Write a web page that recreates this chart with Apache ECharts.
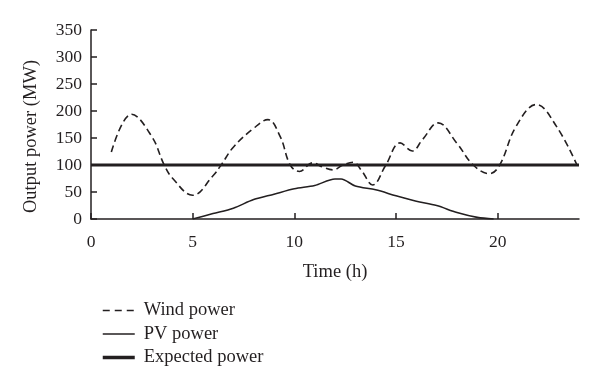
<!DOCTYPE html>
<html>
<head>
<meta charset="utf-8">
<script src="https://cdn.jsdelivr.net/npm/echarts@6/dist/echarts.min.js"></script>
<style>html,body{margin:0;padding:0;background:#fff}#c{width:600px;height:388px}</style>
</head>
<body>
<div id="c"></div>
<script>
// Wind power (MW) at time (h)
var windTime  = [1, 2, 3, 3.6, 4, 5, 6, 6.4, 7, 8, 8.7, 9.3, 9.8, 10.25, 10.9, 11.4, 11.9, 12.4, 12.9, 13.3, 13.85, 14.5, 15.2, 15.8, 16.3, 17.07, 18, 18.8, 19.6, 20.1, 20.9, 21.9, 22.9, 23.9];
var windPower = [124, 194, 152, 100, 76, 44, 80, 100, 133, 168, 184, 153, 100, 88, 104, 96, 91, 100, 105, 90, 63, 100, 141, 126, 147, 178, 140, 100, 84, 100, 171, 212, 171, 100];
// PV power (MW)
var pvTime  = [5, 6, 7, 8, 9, 10, 11, 12, 12.3, 13, 14, 15, 16, 17, 18, 19, 19.8];
var pvPower = [0, 10, 20, 36, 46, 56, 62, 74, 74, 61, 54, 43, 33, 25, 12, 3, 0];
// Expected power (MW)
var expTime  = [0, 24];
var expPower = [100, 100];

var seriesNames = ['Wind power', 'PV power', 'Expected power'];

function pairs(xs, ys) { return xs.map(function (x, i) { return [x, ys[i]]; }); }

var ink = '#231f20';
var font = 'Liberation Serif';
var chart = echarts.init(document.getElementById('c'), null, {renderer: 'canvas'});
chart.setOption({
  animation: false,
  backgroundColor: '#fff',
  grid: {left: 91, right: 21, top: 30, bottom: 169, containLabel: false},
  legend: {
    orient: 'vertical', left: 96, top: 296,
    itemWidth: 32, itemHeight: 14, itemGap: 4.5,
    data: [
      {name: seriesNames[0], lineStyle: {color: ink, width: 1.6, type: [7, 5]}},
      {name: seriesNames[1], lineStyle: {color: ink, width: 1.5, type: 'solid'}},
      {name: seriesNames[2], lineStyle: {color: ink, width: 3.5, type: 'solid'}}
    ],
    itemStyle: {opacity: 0},
    textStyle: {fontFamily: font, fontSize: 18.5, color: ink, padding: [0, 0, 0, 4]}
  },
  xAxis: {
    type: 'value', min: 0, max: 24, interval: 5,
    name: 'Time (h)', nameLocation: 'middle', nameGap: 44,
    nameTextStyle: {fontFamily: font, fontSize: 18.5, color: ink},
    axisLine: {onZero: false, lineStyle: {color: ink, width: 1.5}},
    axisTick: {show: true, inside: true, length: 6, lineStyle: {color: ink, width: 1.5}},
    axisLabel: {fontFamily: font, fontSize: 17.5, color: ink, margin: 14, showMaxLabel: false},
    splitLine: {show: false}
  },
  yAxis: {
    type: 'value', min: 0, max: 350, interval: 50,
    name: 'Output power (MW)', nameLocation: 'middle', nameGap: 50,
    nameTextStyle: {fontFamily: font, fontSize: 18.5, color: ink, padding: [0, 24, 0, 0]},
    axisLine: {show: true, onZero: false, lineStyle: {color: ink, width: 1.5}},
    axisTick: {show: true, inside: true, length: 6, lineStyle: {color: ink, width: 1.5}},
    axisLabel: {fontFamily: font, fontSize: 17.5, color: ink, margin: 9},
    splitLine: {show: false}
  },
  series: [
    {name: seriesNames[0], type: 'line', symbol: 'none', smooth: 0.4,
     data: pairs(windTime, windPower), color: ink,
     lineStyle: {color: ink, width: 1.6, type: [7, 4]}},
    {name: seriesNames[1], type: 'line', symbol: 'none', smooth: 0.3,
     data: pairs(pvTime, pvPower), color: ink,
     lineStyle: {color: ink, width: 1.6}},
    {name: seriesNames[2], type: 'line', symbol: 'none',
     data: pairs(expTime, expPower), color: ink,
     lineStyle: {color: ink, width: 3}}
  ]
});
</script>
</body>
</html>
